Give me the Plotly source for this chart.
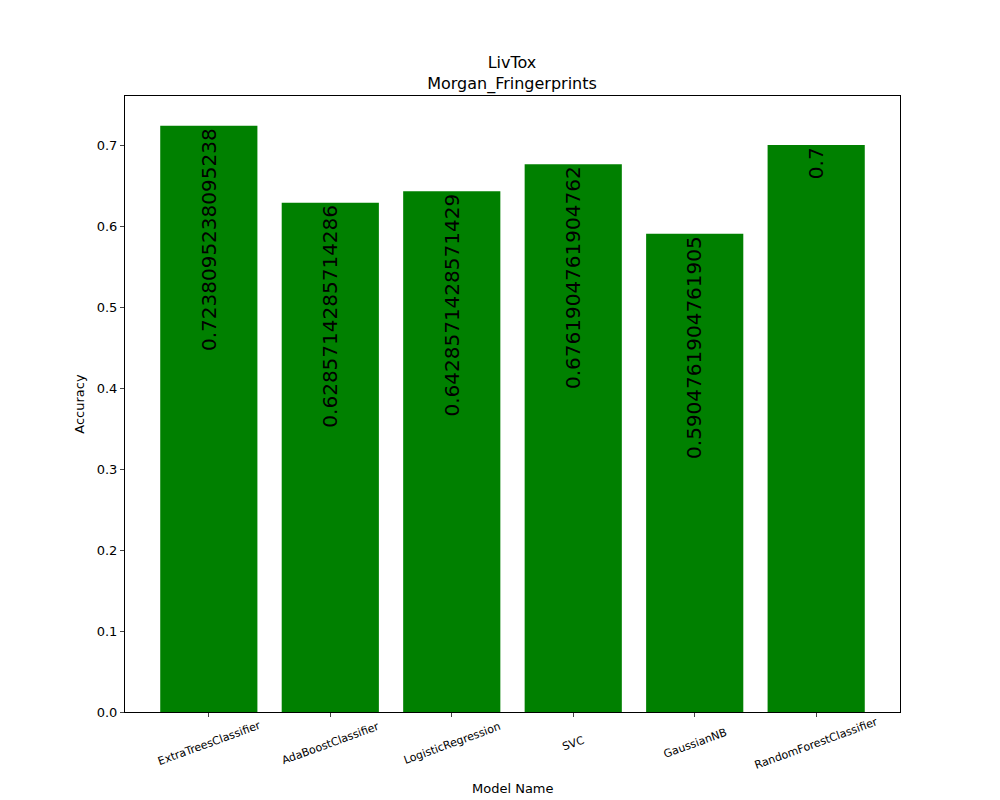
import plotly.graph_objects as go

models = ["ExtraTreesClassifier", "AdaBoostClassifier", "LogisticRegression",
          "SVC", "GaussianNB", "RandomForestClassifier"]
accuracy = [0.7238095238095238, 0.6285714285714286, 0.6428571428571429,
            0.6761904761904762, 0.5904761904761905, 0.7]
labels = ["0.7238095238095238", "0.6285714285714286", "0.6428571428571429",
          "0.6761904761904762", "0.5904761904761905", "0.7"]

xs = list(range(len(models)))

fig = go.Figure()
fig.add_trace(go.Bar(x=xs, y=accuracy, width=0.8, marker=dict(color="green", line=dict(width=0))))

# value labels, rotated, hanging from the top of each bar
for x, y, t in zip(xs, accuracy, labels):
    fig.add_annotation(x=x, y=y, text=t, textangle=-90, showarrow=False,
                       xanchor="center", yanchor="top",
                       font=dict(size=20, color="black", family="DejaVu Sans"))

# tick labels centred under ticks (rotated 20 deg like matplotlib)
for x, m in zip(xs, models):
    fig.add_annotation(x=x, y=0, yref="paper", yshift=-31, text=m, textangle=-20,
                       showarrow=False, xanchor="center", yanchor="middle",
                       font=dict(size=11, color="black", family="DejaVu Sans"))

fig.add_annotation(x=0.5, y=0, xref="paper", yref="paper", yshift=-76, text="Model Name",
                   showarrow=False, xanchor="center", yanchor="middle",
                   font=dict(size=13, color="black", family="DejaVu Sans"))

fig.update_layout(
    width=1000, height=800,
    plot_bgcolor="white", paper_bgcolor="white",
    font=dict(family="DejaVu Sans", color="black", size=13),
    margin=dict(l=117, r=108, t=88, b=96),
    title=dict(text="LivTox<br>Morgan_Fringerprints", x=0.504, xanchor="center",
               y=0.925, yanchor="bottom", font=dict(size=16)),
    showlegend=False,
)
fig.update_xaxes(range=[-0.69, 5.69], tickvals=xs, showticklabels=False,
                 ticks="outside", ticklen=4,
                 showline=True, linecolor="black", mirror=True, showgrid=False)
fig.update_yaxes(range=[0, 0.7605], dtick=0.1, tickformat=".1f",
                 ticks="outside", ticklen=4, showline=True, linecolor="black",
                 mirror=True, showgrid=False, zeroline=False,
                 title=dict(text="Accuracy", font=dict(size=13), standoff=9))

fig.write_html("out.html")
